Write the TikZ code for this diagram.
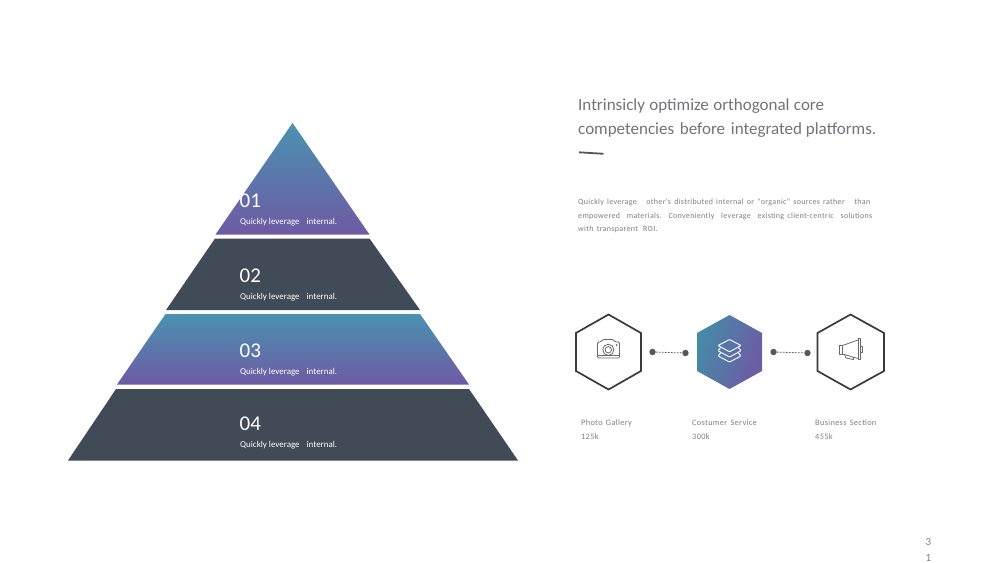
\documentclass[tikz,border=0pt]{standalone}
\usepackage{fontspec}
\setmainfont{Carlito}
\newfontfamily\spaced[LetterSpace=4]{Carlito}
\newfontfamily\paraspaced[LetterSpace=4,WordSpace=1.5]{Carlito}
\definecolor{teal1}{HTML}{4A92B0}
\definecolor{purp1}{HTML}{6E5AA4}
\definecolor{slate}{HTML}{414B57}
\definecolor{txt}{HTML}{7F8083}
\definecolor{head}{HTML}{727478}
\definecolor{hexline}{HTML}{3A3A3E}
\definecolor{icon}{HTML}{6A6A6A}
\tikzset{
  gradv/.style={top color=teal1,bottom color=purp1},
  solidtier/.style={fill=slate,draw=none},
  num/.style={anchor=base west,inner sep=0pt,text=white,font=\fontsize{21}{21}\selectfont},
  sub/.style={anchor=base west,inner sep=0pt,text=white,font=\fontsize{8.95}{10}\selectfont},
  headline/.style={anchor=base west,inner sep=0pt,text=head,font=\fontsize{17}{20}\selectfont},
  para/.style={anchor=base west,inner sep=0pt,text=txt,font=\paraspaced\fontsize{8}{10}\selectfont},
  lab/.style={anchor=base west,inner sep=0pt,text=txt,font=\spaced\fontsize{8.3}{10}\selectfont},
  hexo/.style={draw=hexline,line width=1.7pt,fill=white,line join=miter},
  dotn/.style={circle,fill=hexline!85,draw=none,minimum size=6.4pt,inner sep=0pt},
  link/.style={draw=hexline!85,line width=.8pt,dash pattern=on 1.6pt off 1.4pt},
  ico/.style={draw=icon,line width=.8pt,line join=round,fill=none},
  icow/.style={draw=white!92!teal1,line width=1pt,line join=round},
}
\begin{document}
\begin{tikzpicture}[x=1pt,y=-1pt]
\useasboundingbox (0,0) rectangle (1000,562);
\fill[white] (0,0) rectangle (1000,562);
% pyramid
\shade[gradv] (292.5,123) -- (369.5,234.5) -- (215.5,234.5) -- cycle;
\fill[solidtier] (215,238.5) -- (369.5,238.5) -- (420,310) -- (166,310) -- cycle;
\shade[gradv] (165.5,314) -- (420,314) -- (469,384.5) -- (117,384.5) -- cycle;
\fill[solidtier] (116,389) -- (469,389) -- (518,460.5) -- (68,460.5) -- cycle;
\node[num] (n1) at (239.5,207) {01};
\node[sub] (s1) at (240,224.5) {Quickly leverage\hspace{5pt} internal.};
\node[num] (n2) at (239.5,282) {02};
\node[sub] (s2) at (240,299.5) {Quickly leverage\hspace{5pt} internal.};
\node[num] (n3) at (239.5,357) {03};
\node[sub] (s3) at (240,374.5) {Quickly leverage\hspace{5pt} internal.};
\node[num] (n4) at (239.5,430) {04};
\node[sub] (s4) at (240,447.5) {Quickly leverage\hspace{5pt} internal.};
% heading
\node[headline] (h1) at (578,110.5) {\hbox to 246pt{Intrinsicly optimize orthogonal core}};
\node[headline] (h2) at (578,134.5) {\hbox to 298pt{competencies\hfill before\hfill integrated platforms.}};
\draw[hexline!85,line width=1.8pt] (579,152.3) -- (603.5,153.8);
\node[para] (p1) at (578,204) {\hbox to 292pt{Quickly leverage\hfill other's distributed internal or "organic" sources rather\hfill than}};
\node[para] (p2) at (578,218.5) {\hbox to 294pt{empowered\hfill materials.\hfill Conveniently\hfill leverage\hfill existing client-centric\hfill solutions}};
\node[para] (p3) at (578,231.5) {with transparent\hspace{2pt} ROI.};
% hexagons
\draw[hexo] (608.5,314.5) -- (641,333) -- (641,371) -- (608.5,389.5) -- (576,371) -- (576,333) -- cycle;
\shade[left color=teal1!95!black,right color=purp1,shading angle=70] (729.5,315) -- (762,333) -- (762,371) -- (729.5,389) -- (697,371) -- (697,333) -- cycle;
\draw[hexo] (850.5,314.5) -- (884,333) -- (884,371) -- (850.5,389.5) -- (817.5,371) -- (817.5,333) -- cycle;
% links
\node[dotn] (d1) at (652.5,352) {};
\node[dotn] (d2) at (685.5,353) {};
\node[dotn] (d3) at (773.5,352) {};
\node[dotn] (d4) at (807.5,353) {};
\draw[link] (d1) -- (d2);
\draw[link] (d3) -- (d4);
% camera icon
\draw[ico,rounded corners=1.2pt] (597.5,342) -- (601,342) -- (602.5,339.5) -- (613.5,339.5) -- (615,342) -- (619.5,342) -- (619.5,358) -- (597.5,358) -- cycle;
\draw[ico] (608.3,349.8) circle (5.6pt) (608.3,349.8) circle (3.2pt);
\draw[ico] (597.5,355) -- (619.5,355);
\fill[icon] (616.5,345) circle (1pt);
% layers icon
\draw[icow,rounded corners=1pt] (720.5,347.6) -- (718,350.8) -- (729.5,357) -- (741,350.8) -- (738.5,347.6);
\draw[icow,rounded corners=1pt] (720.5,353) -- (718,356) -- (729.5,362) -- (741,356) -- (738.5,353);
\draw[icow,rounded corners=.6pt] (729.5,339.5) -- (741,345.5) -- (729.5,351.8) -- (718,345.5) -- cycle;
% megaphone icon
\draw[ico] (839,345.5) rectangle (842.5,354);
\draw[ico] (842.5,345.5) -- (858,340) (842.5,354) -- (858,358.5);
\draw[ico] (858,338.5) rectangle (860.2,359.5);
\draw[ico] (860.2,346.5) -- (862.5,346.5) -- (862.5,352) -- (860.2,352);
\draw[ico] (844.5,354.5) -- (846,358) -- (853.5,359.5) -- (853.5,357);
% labels
\node[lab] (l1) at (581,425) {Photo Gallery};
\node[lab] (v1) at (581,439) {125k};
\node[lab] (l2) at (692,425) {Costumer Service};
\node[lab] (v2) at (692,439) {300k};
\node[lab] (l3) at (815,425) {Business Section};
\node[lab] (v3) at (815,439) {455k};
% page number
\node[anchor=base,inner sep=0pt,text=txt,font=\fontsize{11}{11}\selectfont] (pg1) at (928.5,545) {3};
\node[anchor=base,inner sep=0pt,text=txt,font=\fontsize{11}{11}\selectfont] (pg2) at (928.5,561) {1};
\end{tikzpicture}
\end{document}
